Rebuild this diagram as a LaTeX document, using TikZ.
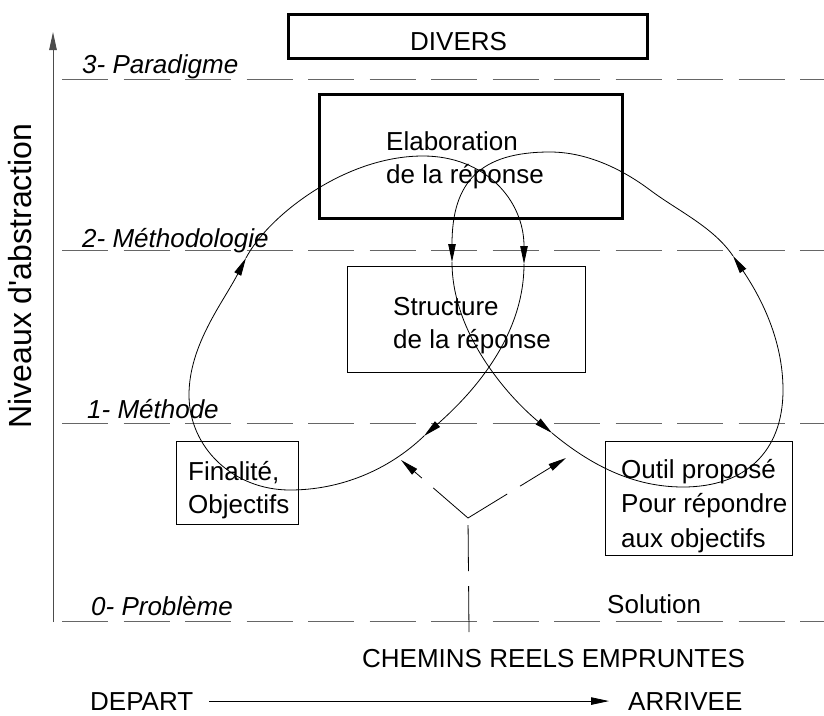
\documentclass[tikz,border=0pt]{standalone}
\usepackage{fontspec}
\setmainfont{Liberation Sans}
\usetikzlibrary{arrows.meta,positioning}

\begin{document}
\begin{tikzpicture}[x=1pt, y=-1pt]
\tikzset{BoxStyle/.style = {draw, line width=1pt, inner sep=0pt, anchor=north west}}
\tikzset{ThickBox/.style = {BoxStyle, line width=2.6pt}}
\tikzset{TextStyle/.style = {inner sep=0pt, anchor=base west, align=left, font=\fontsize{26pt}{33pt}\selectfont}}
\tikzset{LevelStyle/.style = {draw=black!60, line width=0.9pt, dash pattern=on 46pt off 15.5pt}}
\tikzset{LevelLabel/.style = {TextStyle, font=\fontsize{26pt}{33pt}\selectfont\itshape}}
\tikzset{Tip/.style = {-{Triangle[length=18pt, width=7.5pt]}}}
\tikzset{LoopStyle/.style = {Tip, line width=0.8pt}}
\tikzset{ForkStyle/.style = {line width=0.8pt, dash pattern=on 46pt off 15pt}}
	\useasboundingbox (0,0) rectangle (824,715);

	\coordinate (axisbot) at (53,622);
	\coordinate (axistop) at (53,32);
	\draw[Tip, draw=black!70, line width=1pt] (axisbot) -- (axistop);
	\node[TextStyle, rotate=90, anchor=base, font=\fontsize{32pt}{38pt}\selectfont] (niveaux) at (31,276) {Niveaux d\textquotesingle abstraction};

	\draw[LevelStyle] (62,79) -- (824,79);
	\draw[LevelStyle] (62,250) -- (824,250);
	\draw[LevelStyle] (62,423) -- (824,423);
	\draw[LevelStyle] (62,621) -- (824,621);
	\node[LevelLabel] (paradigme) at (82,73) {3- Paradigme};
	\node[LevelLabel] (methodologie) at (82,247) {2- Méthodologie};
	\node[LevelLabel] (methode) at (87,418) {1- Méthode};
	\node[LevelLabel] (probleme) at (91,615) {0- Problème};

	\node[ThickBox, minimum width=359pt, minimum height=44pt] (divers) at (287,13) {};
	\node[TextStyle] (diverstext) at (410,50) {DIVERS};
	\node[ThickBox, minimum width=303pt, minimum height=124pt] (elab) at (318,93) {};
	\node[TextStyle] (elabtext) at (386,183) {Elaboration\\de la réponse};
	\node[BoxStyle, minimum width=238pt, minimum height=106pt] (struct) at (347,266) {};
	\node[TextStyle] (structtext) at (393,348) {Structure\\de la réponse};
	\node[BoxStyle, minimum width=122pt, minimum height=83pt] (final) at (176,441) {};
	\node[TextStyle] (finaltext) at (188,513) {Finalité,\\Objectifs};
	\node[BoxStyle, minimum width=187pt, minimum height=114pt] (outil) at (605,441) {};
	\node[TextStyle, font=\fontsize{26pt}{34.5pt}\selectfont] (outiltext) at (621,547) {Outil proposé\\Pour répondre\\aux objectifs};
	\node[TextStyle] (solution) at (607,613) {Solution};

	\coordinate (elabin) at (246,258);
	\coordinate (elabtop) at (423,156);
	\coordinate (elabout) at (524,264);
	\coordinate (finalin) at (424,436);
	\coordinate (finalbot) at (290,490);
	\coordinate (finalleft) at (189,395);
	\draw[LoopStyle] (elabin) .. controls (266.7,218) and (343,156) .. (elabtop) .. controls (485,156) and (524,200) .. (elabout);
	\draw[LoopStyle] (elabout) .. controls (524,334) and (476.5,389.8) .. (finalin);
	\draw[LoopStyle] (finalin) .. controls (388,470.5) and (340,490) .. (finalbot) .. controls (233,490) and (189,447.4) .. (finalleft) .. controls (189,345) and (223,302.5) .. (elabin);

	\coordinate (elabback) at (733,256);
	\coordinate (elabmid) at (650,190);
	\coordinate (elabpeak) at (550,152);
	\coordinate (structin) at (452,262);
	\coordinate (outilin) at (552,433);
	\coordinate (outilbot) at (683,487);
	\coordinate (outilright) at (783,390);
	\draw[LoopStyle] (elabback) .. controls (713.4,227) and (678,211) .. (elabmid) .. controls (621.2,168.4) and (586,152) .. (elabpeak) .. controls (480,152) and (452,182) .. (structin);
	\draw[LoopStyle] (structin) .. controls (452,332) and (505.8,394.6) .. (outilin);
	\draw[LoopStyle] (outilin) .. controls (590.5,465) and (633,487) .. (outilbot) .. controls (745,487) and (783,452) .. (outilright) .. controls (783,340) and (761,297.5) .. (elabback);

	\coordinate (forkfoot) at (469,632);
	\coordinate (fork) at (468,518);
	\coordinate (forkleft) at (401,460);
	\coordinate (forkright) at (566,458);
	\draw[ForkStyle] (forkfoot) -- (fork);
	\draw[ForkStyle, Tip] (fork) -- (forkleft);
	\draw[ForkStyle, Tip] (fork) -- (forkright);

	\node[TextStyle] (chemins) at (362,667) {CHEMINS REELS EMPRUNTES};
	\node[TextStyle] (depart) at (90,710) {DEPART};
	\node[TextStyle] (arrivee) at (628,710) {ARRIVEE};
	\draw[Tip, line width=0.8pt, shorten <=16pt, shorten >=19pt] (depart.east) -- (arrivee.west);
\end{tikzpicture}
\end{document}
